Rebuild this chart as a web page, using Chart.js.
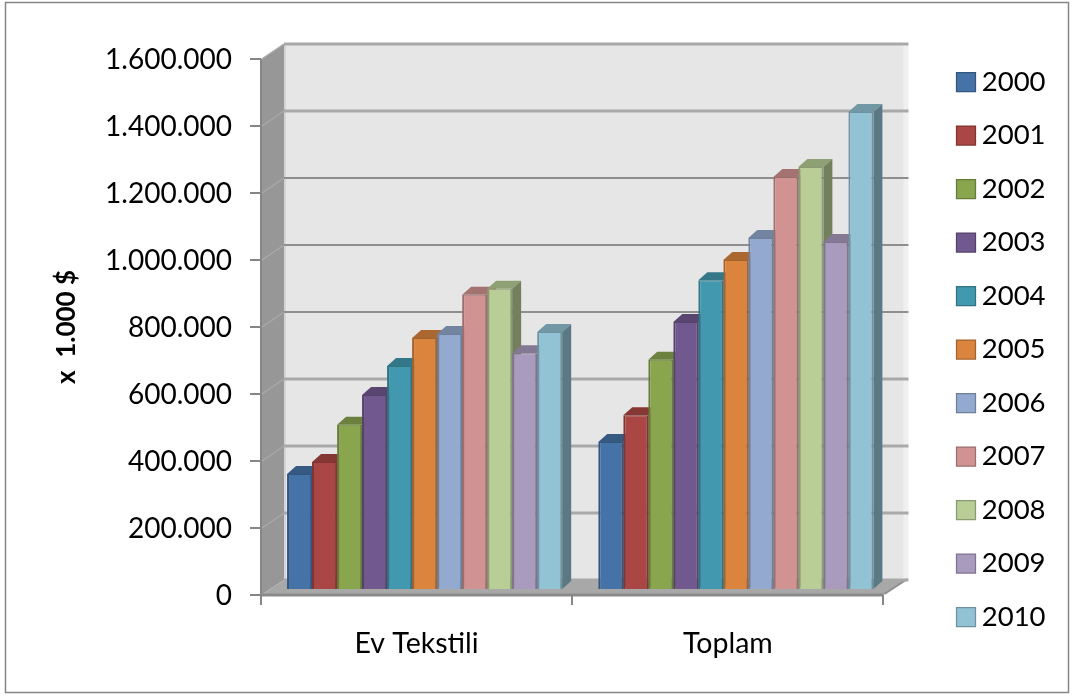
<!DOCTYPE html>
<html>
<head>
<meta charset="utf-8">
<style>
    body { margin: 0; background: #fff; }
    #wrap { position: absolute; left: 0; top: 0; width: 1074px; height: 697px; }
</style>
<script src="https://cdn.jsdelivr.net/npm/chart.js@4"></script>
</head>
<body>
<div id="wrap"><canvas id="chart"></canvas></div>
<script>
// data (x 1.000 $)
const categories = ['Ev Tekstili', 'Toplam'];
const years = ['2000', '2001', '2002', '2003', '2004', '2005', '2006', '2007', '2008', '2009', '2010'];
const evTekstili = [346000, 382000, 493000, 582000, 669000, 752000, 764000, 881000, 899000, 707000, 770000];
const toplam = [442000, 522000, 687000, 800000, 925000, 985000, 1051000, 1233000, 1263000, 1039000, 1427000];
const colors = ['#4572A7', '#AA4643', '#89A54E', '#71588F', '#4198AF', '#DB843D', '#93A9CF', '#D19392', '#B9CD96', '#A99BBD', '#92C3D5'];

const FONT = 'Lato, "Open Sans", sans-serif';
// wall offset of the 3D box and depth of a single bar
const WALL = { dx: 23, dy: -15 };
const BAR = { dx: 9, dy: -8 };
const SHIFT = { dx: 8, dy: -5 };

function shade(hex, k) {
    const n = parseInt(hex.slice(1), 16);
    const r = Math.round((n >> 16) * k);
    const g = Math.round(((n >> 8) & 255) * k);
    const b = Math.round((n & 255) * k);
    return `rgb(${r},${g},${b})`;
}

function poly(ctx, pts, fill) {
    ctx.beginPath();
    pts.forEach((p, i) => i ? ctx.lineTo(p[0], p[1]) : ctx.moveTo(p[0], p[1]));
    ctx.closePath();
    ctx.fillStyle = fill;
    ctx.fill();
}

function line(ctx, x1, y1, x2, y2, color, w) {
    ctx.beginPath();
    ctx.moveTo(x1, y1);
    ctx.lineTo(x2, y2);
    ctx.strokeStyle = color;
    ctx.lineWidth = w;
    ctx.stroke();
}

// outer frame + the box walls, behind everything
const box3d = {
    id: 'box3d',
    // legend sits away from the plot in the original
    afterLayout(chart) {
        chart.legend.left = 938;
        chart.legend.right = 1060;
    },
    beforeDraw(chart) {
        const { ctx, chartArea: a, scales } = chart;
        const d = WALL;
        ctx.save();
        ctx.strokeStyle = '#868686';
        ctx.lineWidth = 1.5;
        ctx.strokeRect(5.5, 2.5, 1063, 690);

        // back wall
        ctx.fillStyle = '#E6E6E6';
        ctx.fillRect(a.left + d.dx, a.top + d.dy, a.width, a.height);
        ctx.fillStyle = '#F0F0F0';
        ctx.fillRect(a.right + d.dx - 3, a.top + d.dy, 5, a.height);
        // left wall
        poly(ctx, [[a.left, a.top], [a.left + d.dx, a.top + d.dy], [a.left + d.dx, a.bottom + d.dy], [a.left, a.bottom]], '#979797');
        line(ctx, a.left + d.dx + 1, a.top + d.dy, a.left + d.dx + 1, a.bottom + d.dy, '#D4D4D4', 2);
        // floor
        poly(ctx, [[a.left, a.bottom], [a.left + d.dx, a.bottom + d.dy], [a.right + d.dx, a.bottom + d.dy], [a.right, a.bottom]], '#A8A8A8');
        line(ctx, a.left, a.bottom, a.right, a.bottom, '#8A8A8A', 3);
        line(ctx, a.right + 1, a.bottom - 1, a.right + d.dx + 1, a.bottom + d.dy - 1, '#909090', 2);
        line(ctx, a.left, a.top, a.left, a.bottom, '#868686', 2);

        // gridlines on the wall, from the value scale
        scales.y.ticks.forEach(t => {
            const y = scales.y.getPixelForValue(t.value);
            if (t.value > 0) {
                line(ctx, a.left + 1, y, a.left + d.dx, y + d.dy, '#A9A9A9', 1.5);
            }
            // the middle lines come out darker and thinner in the original
            const dark = t.value >= 800000 && t.value <= 1200000;
            line(ctx, a.left + d.dx, y + d.dy, a.right + d.dx + 2, y + d.dy, dark ? '#8E8E8E' : '#A9A9A9', dark ? 2 : 3);
        });
        ctx.restore();
    },
    // draw the bars ourselves so 2000 comes first and every later bar covers the side of the one before
    beforeDatasetsDraw(chart) {
        const { ctx } = chart;
        ctx.save();
        ctx.translate(SHIFT.dx, SHIFT.dy);
        chart.data.datasets.forEach((ds, i) => {
            chart.getDatasetMeta(i).data.forEach(bar => {
                const l = bar.x - bar.width / 2;
                const r = bar.x + bar.width / 2;
                poly(ctx, [[l, bar.y], [l + BAR.dx, bar.y + BAR.dy], [r + BAR.dx, bar.y + BAR.dy], [r, bar.y]], shade(colors[i], 0.78));
                poly(ctx, [[r, bar.y], [r + BAR.dx, bar.y + BAR.dy], [r + BAR.dx, bar.base + BAR.dy], [r, bar.base]], shade(colors[i], 0.62));
                bar.draw(ctx);
            });
        });
        ctx.restore();
        return false;
    }
};

const datasets = years.map((year, i) => ({
    label: year,
    data: [evTekstili[i], toplam[i]],
    backgroundColor: colors[i],
    borderColor: shade(colors[i], 0.75),
    borderWidth: { left: 2, right: 2, top: 1, bottom: 0 },
    borderSkipped: false,
    categoryPercentage: 0.884,
    barPercentage: 1
}));

new Chart(document.getElementById('chart'), {
    type: 'bar',
    data: { labels: categories, datasets: datasets },
    plugins: [box3d],
    options: {
        responsive: true,
        maintainAspectRatio: false,
        animation: false,
        layout: { padding: { left: 47, right: 73, top: 20, bottom: 18 } },
        plugins: {
            tooltip: { enabled: false },
            // empty title only keeps the plot top clear of the full-height legend
            title: { display: true, text: '', fullSize: false, font: { size: 10 }, padding: { top: 0, bottom: 27 } },
            legend: {
                position: 'right',
                labels: {
                    font: { family: FONT, size: 27.5 },
                    color: '#000',
                    usePointStyle: true,
                    pointStyle: 'rect',
                    boxWidth: 4,
                    boxHeight: 19,
                    padding: 26
                }
            }
        },
        scales: {
            x: {
                afterFit(scale) { scale.height = 84; },
                grid: { drawOnChartArea: false, tickLength: 10, color: '#868686', lineWidth: 2 },
                border: { display: false },
                ticks: { color: '#000', font: { family: FONT, size: 28.5 }, padding: 22 }
            },
            y: {
                min: 0,
                max: 1600000,
                afterFit(scale) { scale.width = 261 - 47; },
                grid: { drawOnChartArea: false, tickLength: 11, color: '#868686', lineWidth: 2 },
                border: { display: false },
                title: { display: true, text: 'x  1.000 $', color: '#000', font: { family: FONT, size: 26, weight: 'bold' } },
                ticks: {
                    stepSize: 200000,
                    color: '#000',
                    padding: 18,
                    labelOffset: 1,
                    font: { family: FONT, size: 28 },
                    callback: v => String(v).replace(/\B(?=(\d{3})+$)/g, '.')
                }
            }
        }
    }
});
</script>
</body>
</html>
